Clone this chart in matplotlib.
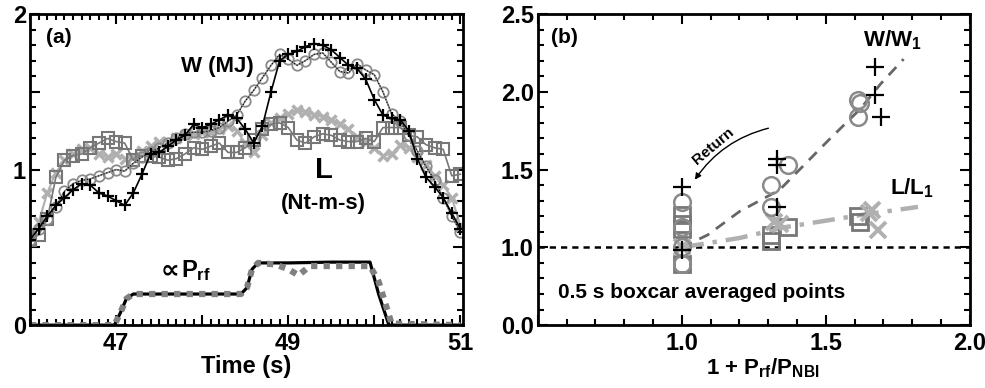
import numpy as np
import matplotlib
matplotlib.use("Agg")
import matplotlib.pyplot as plt
from matplotlib import font_manager
from matplotlib.ticker import MultipleLocator
from matplotlib.patches import FancyArrowPatch

names = {f.name for f in font_manager.fontManager.ttflist}
fam = "Liberation Sans Narrow" if "Liberation Sans Narrow" in names else "Liberation Sans"
plt.rcParams["font.family"] = [fam, "DejaVu Sans"]
plt.rcParams["font.weight"] = "bold"
plt.rcParams["mathtext.fontset"] = "custom"
plt.rcParams["mathtext.rm"] = fam + ":bold"
plt.rcParams["mathtext.it"] = fam + ":bold"
plt.rcParams["mathtext.bf"] = fam + ":bold"

# ---- panel (a): time traces, 0.1 s grid from 46.0 to 51.0 ----
time = np.linspace(46.0, 51.0, 51)

W_mag = [0.55, 0.62, 0.70, 0.77, 0.82, 0.87, 0.91, 0.90, 0.85, 0.83,
         0.80, 0.77, 0.85, 0.97, 1.10, 1.11, 1.15, 1.19, 1.22, 1.29,
         1.27, 1.29, 1.32, 1.35, 1.33, 1.26, 1.17, 1.28, 1.50, 1.70,
         1.74, 1.76, 1.79, 1.81, 1.80, 1.77, 1.72, 1.67, 1.65, 1.58,
         1.45, 1.35, 1.33, 1.32, 1.25, 1.07, 0.95, 0.89, 0.82, 0.72,
         0.62]
W_eq = [0.55, 0.62, 0.68, 0.76, 0.86, 0.91, 0.93, 0.94, 0.96, 0.98,
        1.00, 0.99, 1.04, 1.08, 1.11, 1.14, 1.17, 1.20, 1.23, 1.24,
        1.24, 1.25, 1.27, 1.31, 1.35, 1.44, 1.51, 1.59, 1.67, 1.74,
        1.71, 1.67, 1.70, 1.74, 1.75, 1.69, 1.63, 1.62, 1.68, 1.64,
        1.61, 1.50, 1.36, 1.31, 1.22, 1.12, 1.02, 0.93, 0.82, 0.70,
        0.60]
L_x = [0.58, 0.66, 0.85, 0.98, 1.06, 1.10, 1.13, 1.14, 1.10, 1.08,
       1.10, 1.07, 1.08, 1.12, 1.15, 1.18, 1.18, 1.20, 1.22, 1.23,
       1.24, 1.24, 1.26, 1.28, 1.25, 1.17, 1.11, 1.22, 1.30, 1.33,
       1.36, 1.38, 1.37, 1.35, 1.34, 1.32, 1.29, 1.26, 1.21, 1.18,
       1.14, 1.09, 1.10, 1.16, 1.14, 1.08, 1.03, 0.96, 0.90, 0.82,
       0.64]
L_sq = [0.55, 0.58, 0.68, 0.95, 1.06, 1.09, 1.10, 1.14, 1.17, 1.20,
        1.18, 1.17, 1.06, 1.09, 1.09, 1.08, 1.06, 1.07, 1.10, 1.14,
        1.13, 1.15, 1.17, 1.11, 1.11, 1.14, 1.19, 1.26, 1.29, 1.30,
        1.27, 1.19, 1.17, 1.21, 1.23, 1.22, 1.19, 1.18, 1.18, 1.20,
        1.18, 1.27, 1.27, 1.27, 1.22, 1.21, 1.16, 1.14, 1.13, 0.96,
        0.97]

t_prf1 = [46.0, 46.98, 47.05, 47.12, 47.2, 48.45, 48.52, 48.58, 48.65, 49.0, 49.5, 49.95, 50.05, 50.17, 51.0]
prf1 = [0.0, 0.0, 0.08, 0.17, 0.20, 0.20, 0.24, 0.36, 0.40, 0.40, 0.405, 0.405, 0.20, 0.0, 0.0]
t_prf2 = [46.0, 46.98, 47.05, 47.12, 47.2, 48.45, 48.52, 48.58, 48.65, 48.85, 49.0, 49.12, 49.25, 49.95, 50.05, 50.2, 51.0]
prf2 = [0.0, 0.0, 0.08, 0.17, 0.20, 0.20, 0.24, 0.36, 0.40, 0.39, 0.36, 0.32, 0.38, 0.38, 0.28, 0.01, 0.0]

# ---- panel (b): 0.5 s boxcar averaged points ----
wp_x = [1.0, 1.0, 1.33, 1.33, 1.33, 1.67, 1.67, 1.69]
wp_y = [1.39, 0.98, 1.57, 1.53, 1.26, 2.16, 1.98, 1.84]
wc_x = [1.0, 1.0, 1.0, 1.0, 1.31, 1.37, 1.31, 1.61, 1.62, 1.61]
wc_y = [1.29, 1.13, 1.0, 0.89, 1.40, 1.53, 1.26, 1.95, 1.93, 1.84]
ls_x = [1.0, 1.0, 1.0, 1.0, 1.31, 1.31, 1.37, 1.61, 1.62]
ls_y = [1.21, 1.15, 1.12, 0.89, 1.08, 1.04, 1.13, 1.20, 1.16]
lx_x = [1.0, 1.32, 1.34, 1.65, 1.66, 1.68]
lx_y = [1.0, 1.16, 1.15, 1.22, 1.24, 1.11]
wfit_x = [1.0, 1.09, 1.2, 1.34, 1.51, 1.62, 1.69, 1.77]
wfit_y = [1.0, 1.08, 1.23, 1.37, 1.69, 1.89, 2.05, 2.21]
lfit_x = [1.0, 1.2, 1.36, 1.63, 1.82]
lfit_y = [1.0, 1.06, 1.13, 1.21, 1.26]

c_sq = "#777777"
c_ci = "#8a8a8a"
c_x = "#b0b0b0"

fig = plt.figure(figsize=(9.85, 3.88), dpi=100)
ax1 = fig.add_axes([0.0305, 0.162, 0.4395, 0.802])
ax2 = fig.add_axes([0.546, 0.162, 0.4386, 0.802])

ax1.plot(time, L_x, color=c_x, lw=1.5, marker="x", ms=7.5, mew=2.5)
ax1.plot(time, L_sq, color=c_sq, lw=1.2, marker="s", ms=8, mfc="none", mew=1.5)
ax1.plot(time, W_eq, color=c_ci, lw=1.2, marker="o", ms=7.5, mfc="none", mew=1.3)
ax1.plot(time, W_eq, color="black", lw=0.8, ls=":")
ax1.plot(time, W_mag, color="black", lw=1.2, marker="+", ms=8, mew=1.6)
ax1.plot(t_prf1, prf1, color="black", lw=2.3)
ax1.plot(t_prf2, prf2, color="#808080", lw=4.5, ls=(0, (1, 1)))

ax1.set_xlim(46.0, 51.03)
ax1.set_ylim(0, 2)
ax1.set_xticks([47, 48, 49, 50, 51], ["47", "", "49", "", "51"])
ax1.set_yticks([0, 0.5, 1, 1.5, 2], ["0", "", "1", "", "2"])
ax1.set_xlabel("Time (s)", fontsize=17, fontweight="bold", labelpad=0)

ax1.text(46.34, 1.85, "(a)", fontsize=15, ha="center", va="center")
ax1.text(48.18, 1.66, "W (MJ)", fontsize=16, ha="center", va="center")
ax1.text(49.42, 1.0, "L", fontsize=21, ha="center", va="center")
ax1.text(49.41, 0.78, "(Nt-m-s)", fontsize=16, ha="center", va="center")
ax1.text(47.63, 0.35, "∝", fontsize=19, family="DejaVu Sans", ha="center", va="center")
ax1.text(47.75, 0.35, "P$_{\\rm rf}$", fontsize=17, ha="left", va="center")

ax2.axhline(1.0, color="black", lw=1.8, ls=(0, (2.5, 2)))
ax2.plot(wfit_x, wfit_y, color="#666666", lw=2, ls=(0, (4, 3)))
ax2.plot(lfit_x, lfit_y, color=c_x, lw=3.2, ls=(0, (5, 2, 1, 2)))
ax2.plot(ls_x, ls_y, ls="none", marker="s", ms=12, mfc="none", mec=c_sq, mew=2)
ax2.plot(lx_x, lx_y, ls="none", marker="x", ms=12, mec=c_x, mew=2.8)
ax2.plot(wc_x, wc_y, ls="none", marker="o", ms=12, mfc="none", mec=c_ci, mew=1.8)
ax2.plot(wp_x, wp_y, ls="none", marker="+", ms=13, mec="black", mew=1.6)

ax2.set_xlim(0.5, 2.0)
ax2.set_ylim(0.5, 2.5)
ax2.set_xticks([0.5, 1.0, 1.5, 2.0], ["", "1.0", "1.5", "2.0"])
ax2.set_yticks([0.5, 1.0, 1.5, 2.0, 2.5], ["0.0", "1.0", "1.5", "2.0", "2.5"])
ax2.set_xlabel(r"1 + P$_{\rm rf}$/P$_{\rm NBI}$", fontsize=16, fontweight="bold", labelpad=0)
ax2.xaxis.set_label_coords(0.52, -0.10)

ax2.text(0.594, 2.35, "(b)", fontsize=15, ha="center", va="center")
ax2.text(1.73, 2.33, r"W/W$_1$", fontsize=16, ha="center", va="center")
ax2.text(1.80, 1.38, r"L/L$_1$", fontsize=16, ha="center", va="center")
ax2.text(0.57, 0.71, "0.5 s boxcar averaged points", fontsize=15, ha="left", va="center")
ax2.text(1.11, 1.65, "Return", fontsize=11, rotation=40, ha="center", va="center")
ax2.add_patch(FancyArrowPatch((1.31, 1.77), (1.04, 1.42), connectionstyle="arc3,rad=0.2",
                              arrowstyle="-|>", mutation_scale=9, color="black", lw=1))

for ax in (ax1, ax2):
    ax.xaxis.set_minor_locator(MultipleLocator(0.1))
    ax.yaxis.set_minor_locator(MultipleLocator(0.1))
    ax.tick_params(which="both", direction="in", top=True, right=True, width=1.5)
    ax.tick_params(which="major", length=7, labelsize=17)
    ax.tick_params(axis="x", which="major", pad=5)
    ax.tick_params(axis="y", which="major", pad=3)
    ax.tick_params(which="minor", length=4)
    for sp in ax.spines.values():
        sp.set_linewidth(2)

fig.savefig("out.png", dpi=100)
